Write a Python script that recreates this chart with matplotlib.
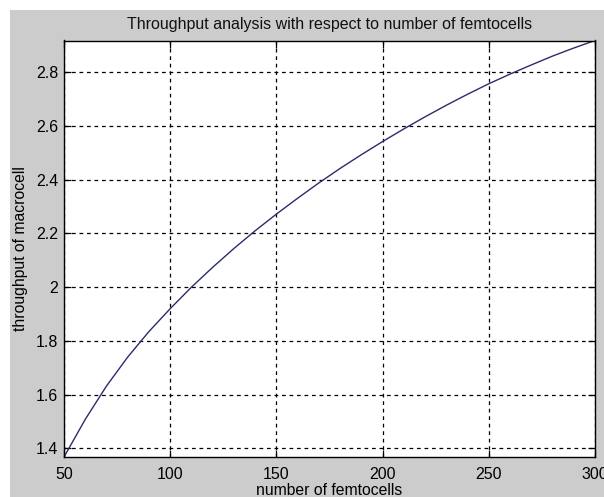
import matplotlib
matplotlib.use("Agg")
import matplotlib.pyplot as plt
from matplotlib.patches import Rectangle

femtocells = [50, 60, 70, 80, 90, 100, 110, 120, 130, 140, 150, 160, 170, 180,
              190, 200, 210, 220, 230, 240, 250, 260, 270, 280, 290, 300]
throughput = [1.368, 1.508, 1.632, 1.740, 1.835, 1.920, 2.000, 2.074, 2.144,
              2.210, 2.272, 2.331, 2.388, 2.442, 2.493, 2.542, 2.589, 2.634,
              2.677, 2.718, 2.757, 2.793, 2.827, 2.860, 2.890, 2.918]
xticks = [50, 100, 150, 200, 250, 300]
yticks = [1.4, 1.6, 1.8, 2.0, 2.2, 2.4, 2.6, 2.8]
ytick_labels = ["1.4", "1.6", "1.8", "2", "2.2", "2.4", "2.6", "2.8"]

plt.rcParams['font.family'] = ['Liberation Sans', 'DejaVu Sans']

W, H = 604, 497
fig = plt.figure(figsize=(W / 100, H / 100), dpi=100, facecolor='white')
bg = Rectangle((10 / W, 0), (W - 10) / W, (H - 10) / H,
               transform=fig.transFigure, facecolor='#cccccc',
               edgecolor='none', zorder=-10)
fig.patches.append(bg)

ax = fig.add_axes([64 / W, (H - 457) / H, 531 / W, 416.5 / H])
ax.set_zorder(1)
ax.set_facecolor('white')
ax.plot(femtocells, throughput, color='#2b2b6e', linewidth=1.0)
ax.set_xlim(50, 300)
ax.set_ylim(1.368, 2.918)
ax.set_xticks(xticks)
ax.set_yticks(yticks)
ax.set_yticklabels(ytick_labels)
ax.grid(True, color='black', linestyle=(0, (3, 3)), linewidth=0.9)
ax.tick_params(direction='in', top=True, right=True, length=5, width=0.9,
               labelsize=11.5, colors='black')
ax.tick_params(axis='x', pad=7)
ax.tick_params(axis='y', pad=4)
for s in ax.spines.values():
    s.set_color('black')
    s.set_linewidth(1.0)

ax.set_title("Throughput analysis with respect to number of femtocells",
             fontsize=11.5, pad=8.6, color='#111111')
ax.set_xlabel("number of femtocells", fontsize=11.3, labelpad=1)
ax.set_ylabel("throughput of macrocell", fontsize=11.3, labelpad=6)

fig.savefig("out.png", dpi=100, facecolor='white')
